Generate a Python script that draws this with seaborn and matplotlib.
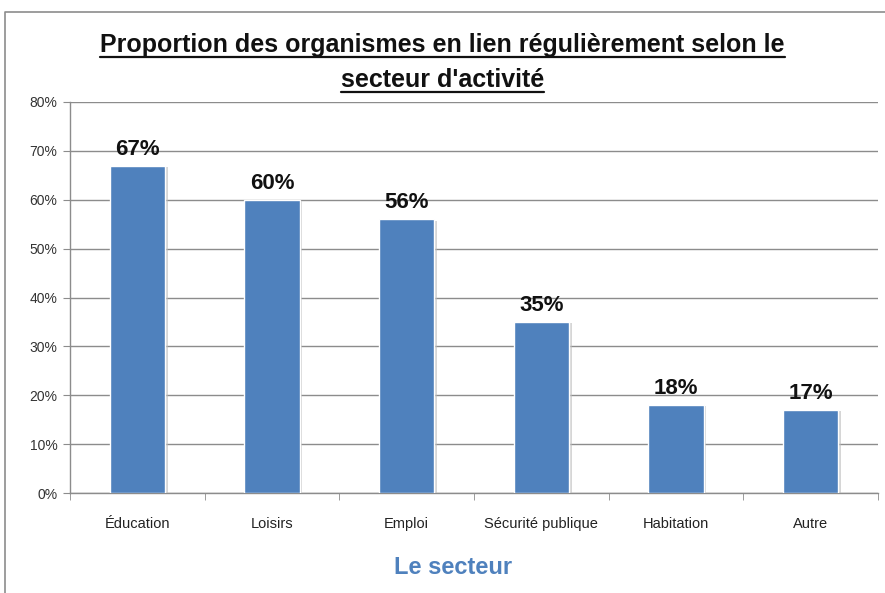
import matplotlib
matplotlib.use("Agg")
import matplotlib.pyplot as plt
import matplotlib.patheffects as pe
from matplotlib.lines import Line2D
from matplotlib.ticker import FuncFormatter, MultipleLocator
import pandas as pd
import seaborn as sns

secteurs = ["Éducation", "Loisirs", "Emploi", "Sécurité publique", "Habitation", "Autre"]
proportions = [67, 60, 56, 35, 18, 17]
titre = ["Proportion des organismes en lien régulièrement selon le", "secteur d'activité"]

df = pd.DataFrame({"secteur": secteurs, "proportion": proportions})

sns.set_style("white")
narrow = ["Liberation Sans Narrow", "Liberation Sans", "DejaVu Sans"]
plt.rcParams["font.family"] = ["Liberation Sans", "DejaVu Sans"]

W, H = 885, 593
fig = plt.figure(figsize=(W / 100, H / 100), dpi=100)
ax = fig.add_axes([0.079, 0.1686, 0.913, 0.6594])

sns.barplot(data=df, x="secteur", y="proportion", color="#4F81BD", width=0.41,
            saturation=1, ax=ax, zorder=3)
for p in ax.patches:
    p.set_path_effects([pe.SimplePatchShadow(offset=(2, -1), shadow_rgbFace="#bbbbbb", alpha=0.6), pe.Normal()])

ax.set_ylim(0, 80)
ax.yaxis.set_major_locator(MultipleLocator(10))
ax.yaxis.set_major_formatter(FuncFormatter(lambda v, _: f"{v:.0f}%"))
ax.grid(axis="y", color="#8c8c8c", linewidth=1, zorder=0)
ax.set_axisbelow(True)
for s in ["top", "right"]:
    ax.spines[s].set_visible(False)
for s in ["left", "bottom"]:
    ax.spines[s].set_color("#8c8c8c")
    ax.spines[s].set_linewidth(1)

ax.tick_params(axis="y", left=True, length=5, color="#8c8c8c", labelsize=10, labelcolor="#333333", pad=4)
ax.tick_params(axis="x", bottom=False, labelsize=10.5, labelcolor="#222222", pad=14)
ax.set_xticks(range(len(secteurs)))
ax.set_xticklabels(secteurs)
# ticks between categories
ax.set_xticks([i + 0.5 for i in range(-1, len(secteurs))], minor=True)
ax.tick_params(axis="x", which="minor", bottom=True, length=5, color="#8c8c8c")
ax.set_xlim(-0.5, len(secteurs) - 0.5)

for i, v in enumerate(proportions):
    ax.text(i, v + 1.2, f"{v}%", ha="center", va="bottom", fontsize=16,
            fontweight="bold", family=narrow, color="#111111")

ax.set_ylabel("")
ax.set_xlabel("Le secteur", fontsize=17, fontweight="bold", family=narrow,
              color="#4F81BD", labelpad=16)
ax.xaxis.set_label_coords(0.474, -0.162)

# title, two lines, each underlined
tsize = 18
baselines = [52, 87]
fig.canvas.draw()
renderer = fig.canvas.get_renderer()
for ln, yb in zip(titre, baselines):
    t = fig.text(0.5, 1 - yb / H, ln, ha="center", va="baseline", fontsize=tsize,
                 fontweight="bold", family=narrow, color="#111111")
    bb = t.get_window_extent(renderer)
    yu = 1 - (yb + 5) / H
    fig.add_artist(Line2D([bb.x0 / W, bb.x1 / W], [yu, yu], color="#111111",
                          linewidth=1.6, transform=fig.transFigure))

# frame: left and top edges only
fig.add_artist(Line2D([5 / W, 5 / W, 1], [0, 1 - 12 / H, 1 - 12 / H], color="#8c8c8c",
                      linewidth=1.2, transform=fig.transFigure))

fig.savefig("out.png", dpi=100)
